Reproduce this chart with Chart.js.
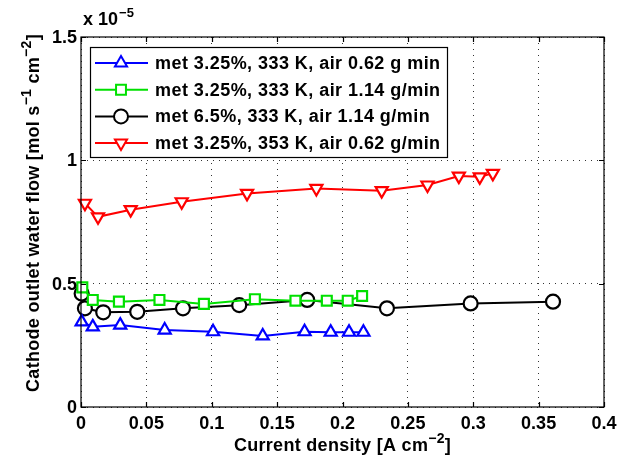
<!DOCTYPE html>
<html><head><meta charset="utf-8">
<script src="https://cdn.jsdelivr.net/npm/chart.js@4"></script>
<style>html,body{margin:0;padding:0;background:#fff}#wrap{width:632px;height:463px}</style>
</head><body><div id="wrap"><canvas id="c" width="632" height="463"></canvas></div>
<script>
const seriesNames = ["met 3.25%, 333 K, air 0.62 g min","met 3.25%, 333 K, air 1.14 g/min","met 6.5%, 333 K, air 1.14 g/min","met 3.25%, 353 K, air 0.62 g/min"];
const blueX = [0.0005,0.009,0.030,0.064,0.101,0.139,0.171,0.191,0.205,0.216];
const blueY = [0.345,0.325,0.332,0.312,0.305,0.288,0.305,0.303,0.303,0.303];
const greenX = [0.001,0.009,0.029,0.060,0.094,0.133,0.164,0.188,0.204,0.215];
const greenY = [0.485,0.434,0.427,0.434,0.418,0.437,0.431,0.431,0.431,0.450];
const blackX = [0.0005,0.003,0.017,0.043,0.078,0.121,0.173,0.234,0.298,0.361];
const blackY = [0.46,0.40,0.384,0.386,0.40,0.413,0.434,0.40,0.42,0.427];
const redX = [0.003,0.013,0.038,0.077,0.127,0.180,0.230,0.265,0.289,0.305,0.315];
const redY = [0.826,0.771,0.80,0.832,0.866,0.886,0.877,0.90,0.936,0.933,0.947];
const xTicks = [0,0.05,0.1,0.15,0.2,0.25,0.3,0.35,0.4];
const yTicks = [0,0.5,1,1.5];

const FONT = "Liberation Sans, Arial, sans-serif";
function pts(xs, ys){ return xs.map((x,i)=>({x:x,y:ys[i]})); }
const styles = [
  {color:'#0000ff', ps:'triangle', rot:0, r:7},
  {color:'#00e000', ps:'rect', rot:0, r:7},
  {color:'#000000', ps:'circle', rot:0, r:7},
  {color:'#ff0000', ps:'triangle', rot:180, r:7}
];
const dataSets = [pts(blueX,blueY), pts(greenX,greenY), pts(blackX,blackY), pts(redX,redY)];

const datasets = dataSets.map((d,i)=>({
  label: seriesNames[i], data: d, showLine: true,
  borderColor: styles[i].color, backgroundColor: '#fff',
  borderWidth: 2, pointRadius: styles[i].r, pointHoverRadius: styles[i].r,
  pointStyle: styles[i].ps, pointRotation: styles[i].rot,
  pointBorderWidth: 2.2, pointBackgroundColor: '#fff', pointBorderColor: styles[i].color,
  clip: false, tension: 0
}));

function drawRich(ctx, parts, x, y, size){
  let w = 0;
  const fs = p => "bold " + (p[1]? Math.round(size*0.75) : size) + "px " + FONT;
  const meas = parts.map(p=>{ ctx.font = fs(p); const m = ctx.measureText(p[0]).width; w += m; return m; });
  let cx = x - w/2;
  parts.forEach((p,i)=>{
    ctx.font = fs(p);
    ctx.fillText(p[0], cx, p[1] ? y - size*0.45 : y);
    cx += meas[i];
  });
}

const decor = {
  id: 'decor',
  afterDatasetsDraw(chart){
    const ctx = chart.ctx, a = chart.chartArea, xs = chart.scales.x, ys = chart.scales.y;
    ctx.save();
    ctx.strokeStyle = '#000'; ctx.lineWidth = 1.2;
    ctx.strokeRect(a.left, a.top, a.right-a.left, a.bottom-a.top);
    ctx.beginPath();
    xTicks.forEach(v=>{ const p = Math.round(xs.getPixelForValue(v))+0.5;
      ctx.moveTo(p,a.bottom); ctx.lineTo(p,a.bottom-5); ctx.moveTo(p,a.top); ctx.lineTo(p,a.top+5);});
    yTicks.forEach(v=>{ const p = Math.round(ys.getPixelForValue(v))+0.5;
      ctx.moveTo(a.left,p); ctx.lineTo(a.left+5,p); ctx.moveTo(a.right,p); ctx.lineTo(a.right-5,p);});
    ctx.stroke();
    ctx.fillStyle = '#000';
    ctx.font = "bold 18px " + FONT;
    ctx.textAlign = 'center'; ctx.textBaseline = 'top';
    xTicks.forEach(v=>{ ctx.fillText(String(v), xs.getPixelForValue(v), a.bottom + 8); });
    ctx.textAlign = 'right'; ctx.textBaseline = 'middle';
    yTicks.forEach(v=>{ ctx.fillText(String(v), a.left - 4, ys.getPixelForValue(v) + 1); });
    ctx.textAlign = 'left'; ctx.textBaseline = 'alphabetic';
    ctx.font = "bold 18px " + FONT;
    ctx.fillText("x 10", a.left + 2, 25);
    const w10 = ctx.measureText("x 10").width;
    ctx.font = "bold 13px " + FONT;
    ctx.fillText("\u22125", a.left + 2 + w10 + 1, 17);
    ctx.letterSpacing = '0.3px';
    drawRich(ctx, [["Current density [A cm"],["\u22122",1],["]"]], (a.left+a.right)/2, 451, 18);
    ctx.save();
    ctx.translate(39, 213); ctx.rotate(-Math.PI/2);
    drawRich(ctx, [["Cathode outlet water flow [mol s"],["\u22121",1],[" cm"],["\u22122",1],["]"]], 0, 0, 18);
    ctx.restore();
    ctx.letterSpacing = '0px';
    const lx = 90, ly = 47, lw = 357, lh = 110;
    ctx.fillStyle = '#fff'; ctx.fillRect(lx, ly, lw, lh);
    ctx.strokeStyle = '#000'; ctx.lineWidth = 1.2; ctx.strokeRect(lx+0.5, ly+0.5, lw, lh);
    seriesNames.forEach((n,i)=>{
      const yy = ly + 16 + i*26.7;
      ctx.strokeStyle = styles[i].color; ctx.lineWidth = 2;
      ctx.beginPath(); ctx.moveTo(lx+5, yy); ctx.lineTo(lx+58, yy); ctx.stroke();
      ctx.fillStyle = '#fff';
      Chart.helpers.drawPoint(ctx, {pointStyle: styles[i].ps, rotation: styles[i].rot, radius: styles[i].r, borderWidth: 2}, lx+31, yy);
      ctx.fillStyle = '#000';
      ctx.letterSpacing = '0.45px';
      ctx.font = "bold 18px " + FONT; ctx.textAlign='left'; ctx.textBaseline='middle';
      ctx.fillText(n, lx + 65, yy + 1);
      ctx.letterSpacing = '0px';
    });
    ctx.restore();
  }
};

new Chart(document.getElementById('c'), {
  type: 'scatter',
  data: { datasets: datasets },
  options: {
    responsive: false, animation: false, devicePixelRatio: 1,
    layout: { padding: { left: 0, top: 37, right: 28, bottom: 0 } },
    plugins: { legend: { display: false }, tooltip: { enabled: false } },
    scales: {
      x: { type: 'linear', min: 0, max: 0.4,
        afterFit: s => { s.height = 56; },
        afterBuildTicks: s => { s.ticks = xTicks.map(v=>({value:v})); },
        ticks: { display: false },
        grid: { color: '#333', lineWidth: 1, drawTicks: false },
        border: { display: false, dash: [1,5] } },
      y: { type: 'linear', min: 0, max: 1.5,
        afterFit: s => { s.width = 81; },
        afterBuildTicks: s => { s.ticks = yTicks.map(v=>({value:v})); },
        ticks: { display: false },
        grid: { color: '#333', lineWidth: 1, drawTicks: false },
        border: { display: false, dash: [1,5] } }
    }
  },
  plugins: [decor]
});
</script>
</body></html>
